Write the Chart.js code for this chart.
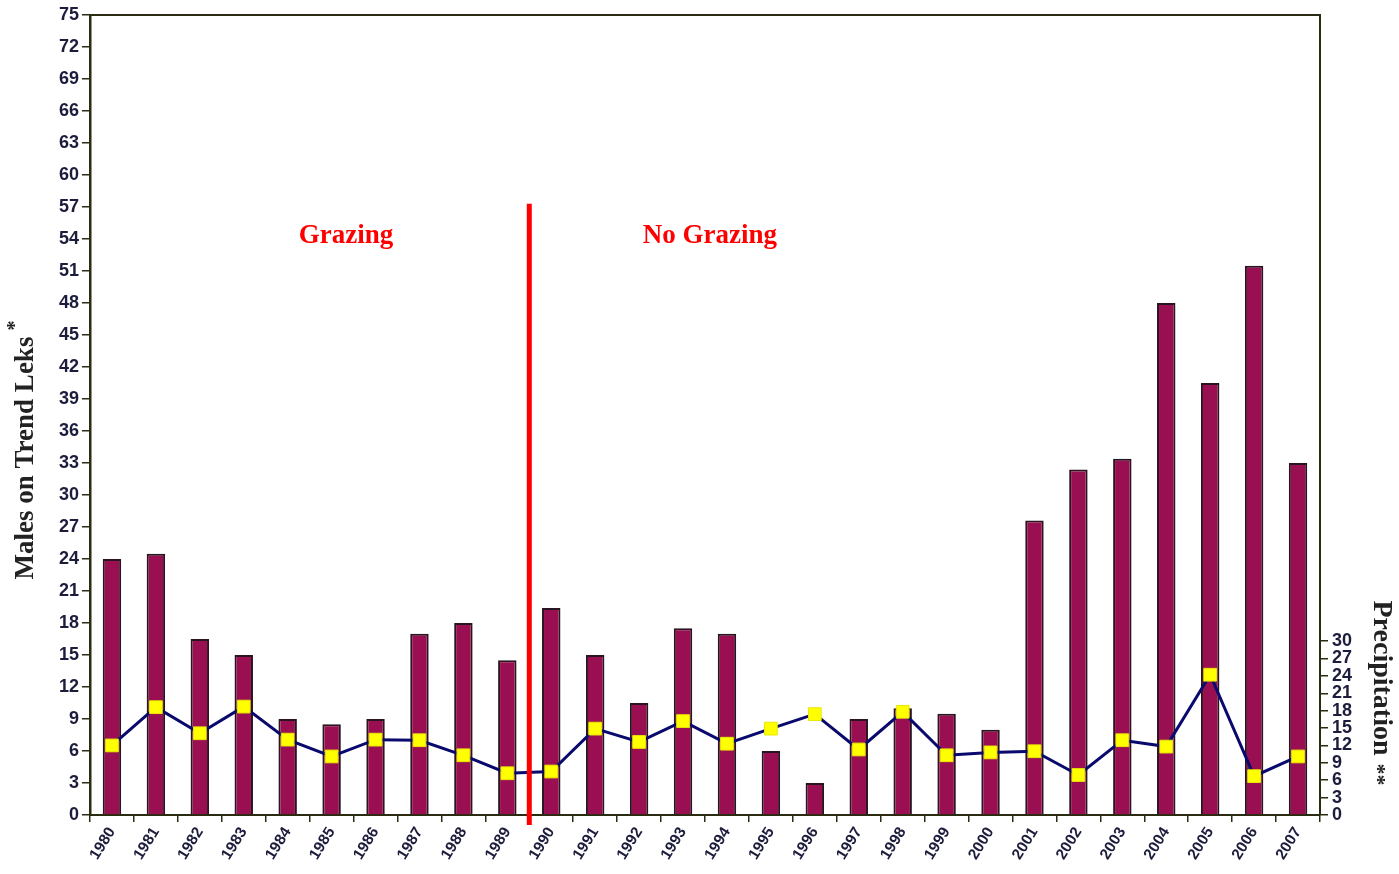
<!DOCTYPE html>
<html>
<head>
<meta charset="utf-8">
<script src="https://cdn.jsdelivr.net/npm/chart.js@4.4.0/dist/chart.umd.min.js"></script>
<style>
  html, body { margin: 0; padding: 0; background: #fff; }
  #wrap { width: 1399px; height: 874px; position: relative; }
</style>
</head>
<body>
<div id="wrap"><canvas id="leksChart"></canvas></div>
<script>
// years on the x axis
const years = ['1980', '1981', '1982', '1983', '1984', '1985', '1986', '1987', '1988', '1989',
  '1990', '1991', '1992', '1993', '1994', '1995', '1996', '1997', '1998', '1999',
  '2000', '2001', '2002', '2003', '2004', '2005', '2006', '2007'];

// males on trend leks (left axis)
const males = [24, 24.5, 16.5, 15, 9, 8.5, 9, 17, 18, 14.5,
  19.4, 15, 10.5, 17.5, 17, 6, 3, 9, 10, 9.5,
  8, 27.6, 32.4, 33.4, 48, 40.5, 51.5, 33];

// precipitation (right axis)
const precip = [12, 18.6, 14.1, 18.7, 13, 10.1, 13, 12.9, 10.3, 7.2,
  7.5, 14.9, 12.6, 16.2, 12.3, 14.9, 17.4, 11.3, 17.8, 10.3,
  10.8, 11, 6.9, 12.9, 11.8, 24.2, 6.7, 10.1];

const leftMax = 75;
const rightMax = 138;     // right ticks only go to 30, but the scale spans the full height
const rightTickMax = 30;

const axisText = '#1c1c3c';
const frameColor = '#2b2b12';

const overlay = {
  id: 'overlay',
  afterDatasetsDraw(chart) {
    const { ctx, chartArea: a, scales: { x, y } } = chart;
    ctx.save();

    // plot frame (top and right)
    ctx.strokeStyle = frameColor;
    ctx.lineWidth = 2;
    ctx.beginPath();
    ctx.moveTo(a.left, a.top);
    ctx.lineTo(a.right, a.top);
    ctx.lineTo(a.right, a.bottom);
    ctx.stroke();

    // grazing / no grazing divider between 1989 and 1990
    const split = years.indexOf('1990');
    const xd = (x.getPixelForValue(split - 1) + x.getPixelForValue(split)) / 2;
    ctx.strokeStyle = '#ff0000';
    ctx.lineWidth = 5;
    ctx.beginPath();
    ctx.moveTo(xd, y.getPixelForValue(57.3));
    ctx.lineTo(xd, a.bottom + 10);
    ctx.stroke();

    ctx.fillStyle = '#ff0000';
    ctx.font = 'bold 27px "Liberation Serif", serif';
    ctx.textAlign = 'center';
    ctx.textBaseline = 'middle';
    ctx.fillText('Grazing', x.getPixelForValue(5.33), y.getPixelForValue(54.3));
    ctx.fillText('No Grazing', x.getPixelForValue(13.61), y.getPixelForValue(54.3));
    ctx.restore();
  },
  afterDraw(chart) {
    const { ctx } = chart;
    ctx.save();
    ctx.fillStyle = '#222';
    ctx.textBaseline = 'middle';

    // left title, reads bottom to top
    ctx.translate(26, 452);
    ctx.rotate(-Math.PI / 2);
    ctx.font = 'bold 27px "Liberation Serif", serif';
    const main = 'Males on Trend Leks';
    const w = ctx.measureText(main).width;
    ctx.textAlign = 'left';
    ctx.fillText(main, -w / 2 - 6, 0);
    ctx.font = 'bold 20px "Liberation Serif", serif';
    ctx.fillText('*', w / 2, -10);
    ctx.restore();

    // right title, reads top to bottom
    ctx.save();
    ctx.fillStyle = '#222';
    ctx.textBaseline = 'middle';
    ctx.translate(1381, 690);
    ctx.rotate(Math.PI / 2);
    ctx.font = 'bold 28px "Liberation Serif", serif';
    const r = 'Precipitation';
    const rw = ctx.measureText(r).width;
    ctx.textAlign = 'left';
    ctx.fillText(r, -rw / 2 - 12, 0);
    ctx.font = 'bold 22px "Liberation Serif", serif';
    ctx.fillText('**', rw / 2 - 4, 4);
    ctx.restore();
  }
};

const ctx = document.getElementById('leksChart').getContext('2d');
new Chart(ctx, {
  type: 'bar',
  data: {
    labels: years,
    datasets: [
      {
        type: 'line',
        label: 'Precipitation',
        data: precip,
        yAxisID: 'y1',
        borderColor: '#0a0a6e',
        borderWidth: 3,
        pointStyle: 'rect',
        pointRadius: 9,
        pointBackgroundColor: '#ffff00',
        pointBorderColor: '#e8e800',
        pointBorderWidth: 1,
        tension: 0,
        order: 0
      },
      {
        label: 'Males',
        data: males,
        yAxisID: 'y',
        backgroundColor: '#990f52',
        borderColor: '#2a1420',
        borderWidth: 2,
        barPercentage: 0.42,
        categoryPercentage: 1,
        order: 1
      }
    ]
  },
  options: {
    responsive: true,
    maintainAspectRatio: false,
    animation: false,
    layout: { padding: { top: 15, left: 0, right: 0, bottom: 0 } },
    plugins: {
      legend: { display: false },
      tooltip: { enabled: false }
    },
    scales: {
      x: {
        offset: true,
        grid: { display: true, offset: true, drawOnChartArea: false, tickLength: 7, color: frameColor, lineWidth: 1.5 },
        border: { display: true, color: frameColor, width: 2 },
        ticks: {
          color: axisText,
          font: { family: '"Liberation Sans", Arial, sans-serif', size: 15.5, weight: 'bold' },
          maxRotation: 58,
          minRotation: 58,
          autoSkip: false,
          padding: 2
        },
        afterFit: s => { s.height = 59; }
      },
      y: {
        position: 'left',
        min: 0,
        max: leftMax,
        ticks: {
          stepSize: 3,
          color: axisText,
          font: { family: '"Liberation Sans", Arial, sans-serif', size: 18, weight: 'bold' },
          padding: 3
        },
        grid: { drawOnChartArea: false, tickLength: 8, color: frameColor, lineWidth: 1.5 },
        border: { display: true, color: frameColor, width: 2.5 },
        afterFit: s => { s.width = 90; }
      },
      y1: {
        position: 'right',
        min: 0,
        max: rightMax,
        afterBuildTicks: s => {
          s.ticks = s.ticks.filter(t => t.value <= rightTickMax);
        },
        ticks: {
          stepSize: 3,
          color: axisText,
          font: { family: '"Liberation Sans", Arial, sans-serif', size: 18, weight: 'bold' },
          padding: 4
        },
        grid: { drawOnChartArea: false, tickLength: 8, color: frameColor, lineWidth: 1.5 },
        border: { display: true, color: frameColor, width: 2 },
        afterFit: s => { s.width = 79; }
      }
    }
  },
  plugins: [overlay]
});
</script>
</body>
</html>
